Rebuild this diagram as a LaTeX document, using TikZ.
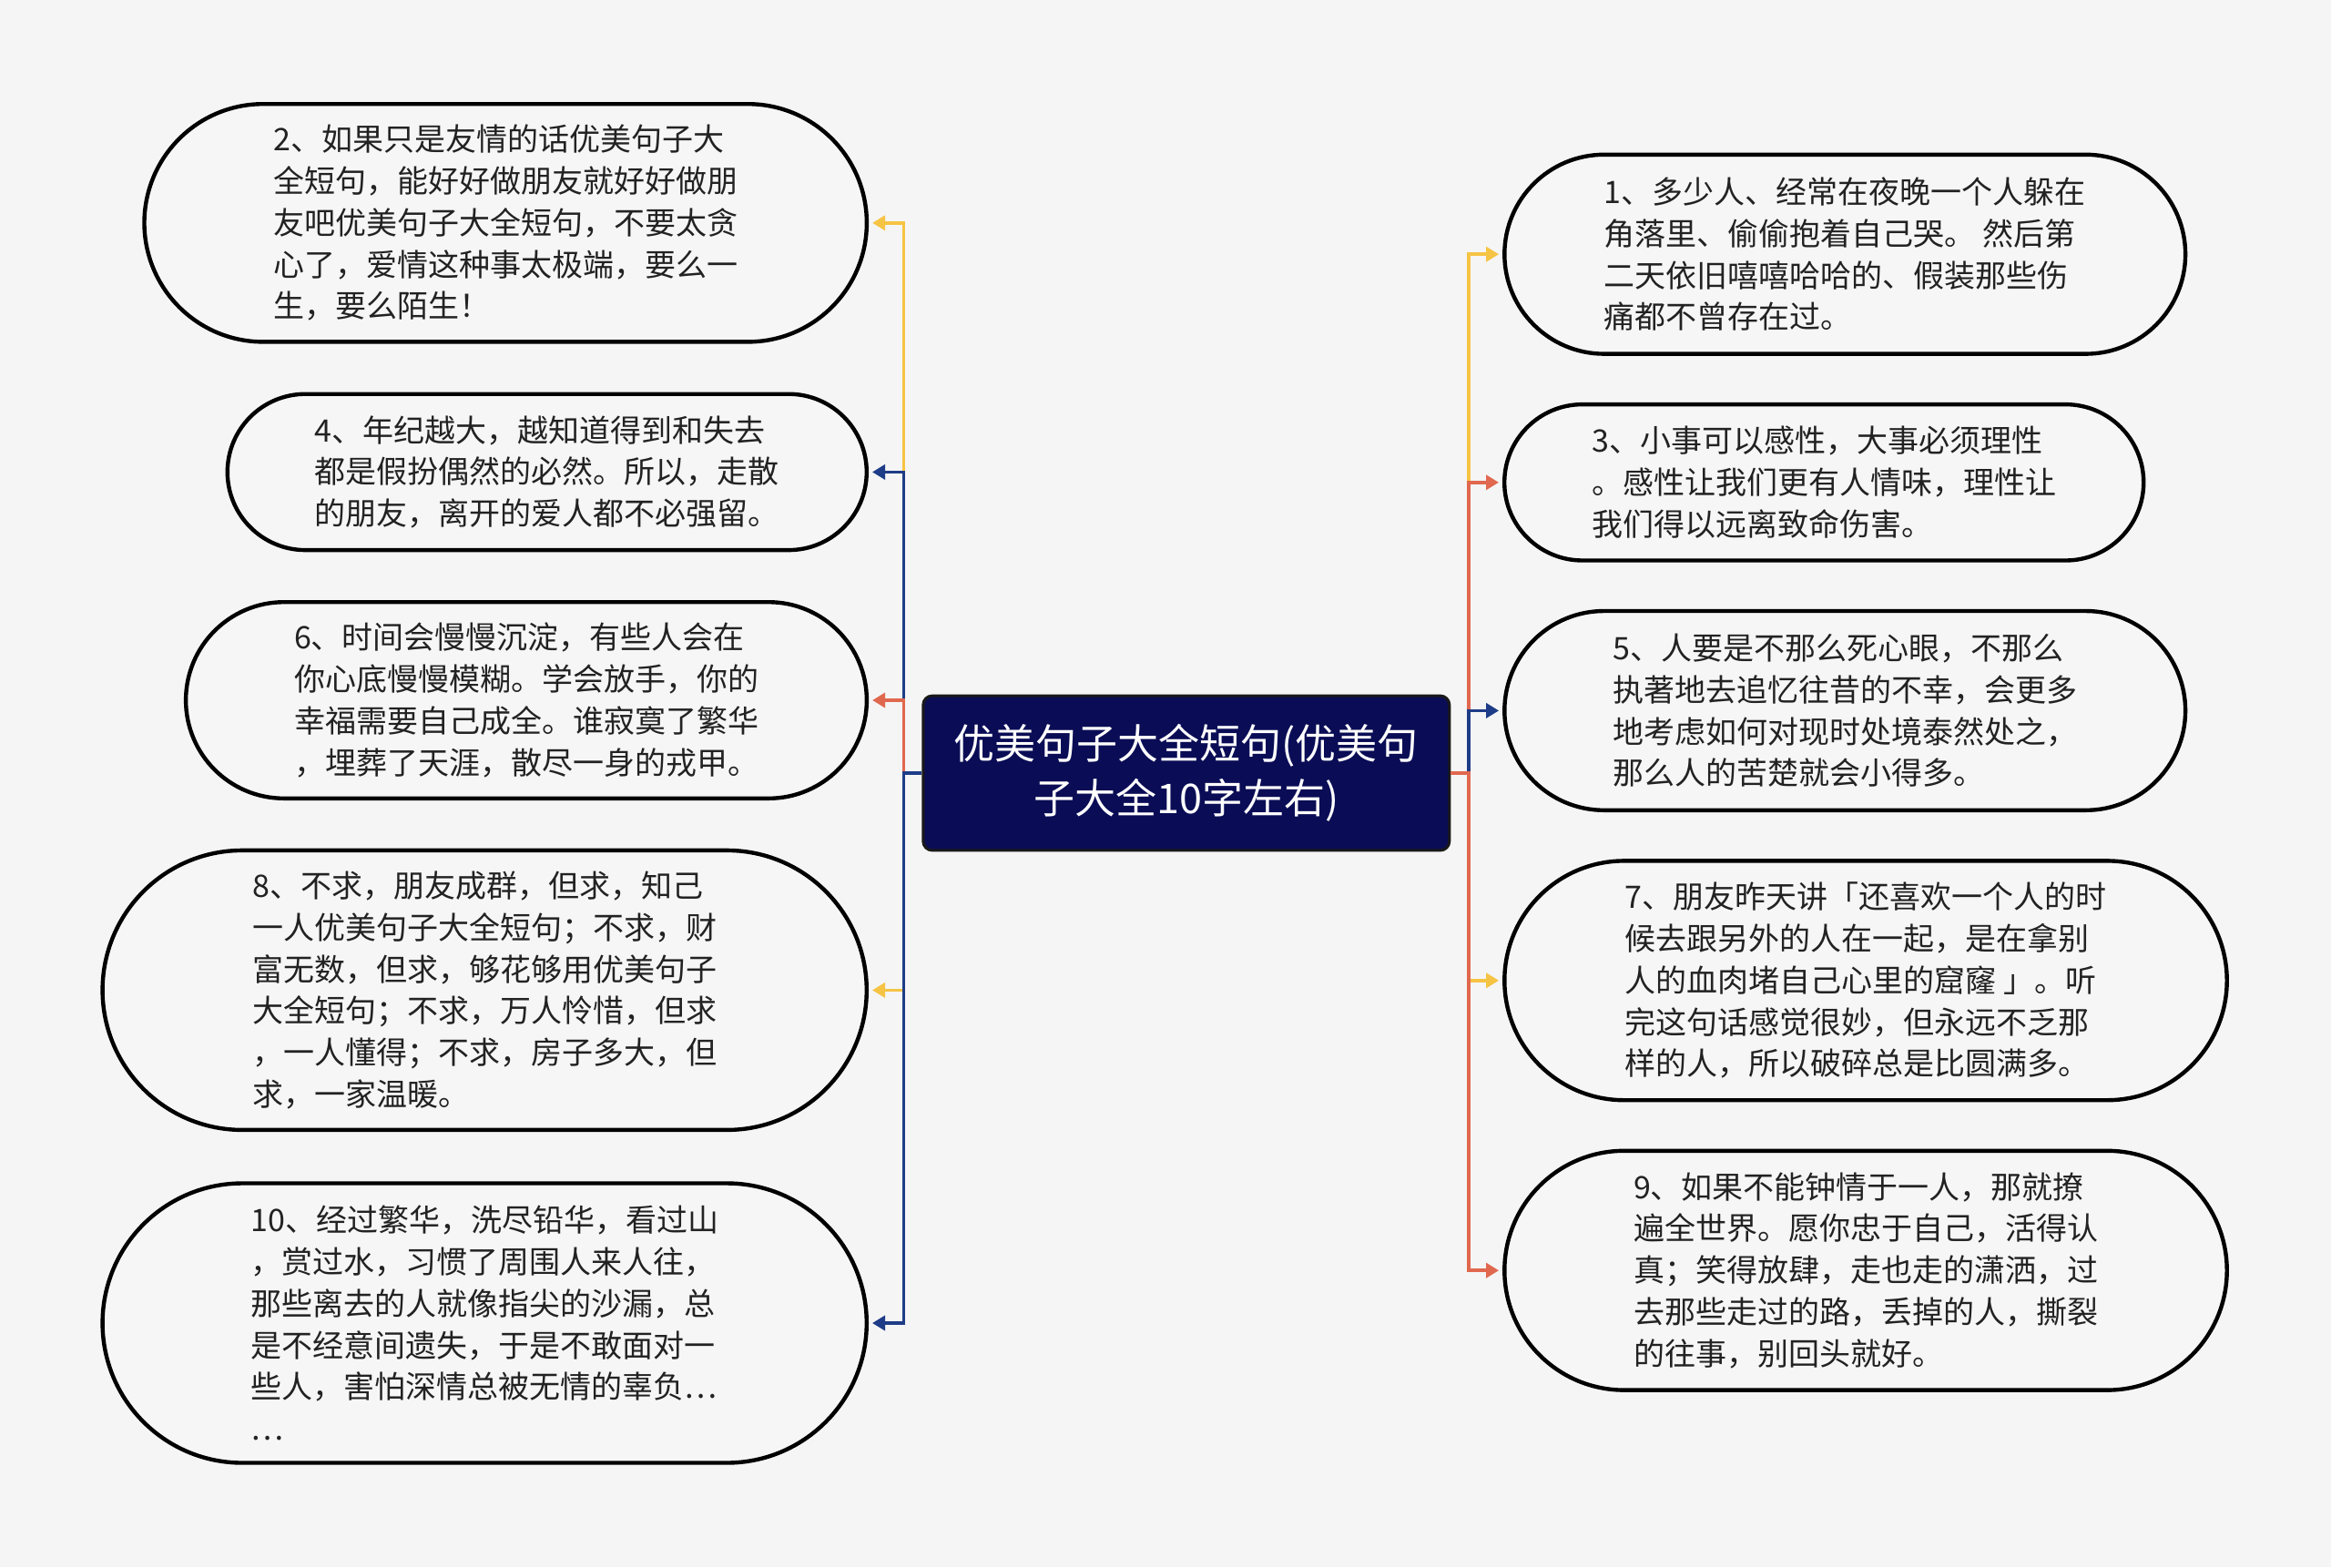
\documentclass[tikz,border=0pt]{standalone}
\usepackage{fontspec}
\newfontfamily\cjk{Noto Sans CJK SC}
\usetikzlibrary{shapes.misc,arrows.meta}
\definecolor{bgc}{HTML}{F5F5F5}
\definecolor{leaffill}{HTML}{F6F6F6}
\definecolor{txt}{HTML}{222222}
\definecolor{cyel}{HTML}{F6C444}
\definecolor{cblu}{HTML}{1E3C87}
\definecolor{cora}{HTML}{E0684E}
\definecolor{cnavy}{HTML}{0A0D55}
\begin{document}
\begin{tikzpicture}[x=1pt,y=1pt,
  leaf/.style={rounded rectangle, draw=black, line width=2.2pt, fill=leaffill, align=left,
    font=\cjk\fontsize{17}{22.9}\selectfont, text=txt, inner sep=0pt},
  root/.style={rectangle, rounded corners=5pt, draw=black!90, line width=1.5pt, fill=cnavy,
    align=center, text=white, font=\cjk\fontsize{22.5}{30.2}\selectfont,
    minimum width=289pt, minimum height=84.9pt, inner sep=0pt},
  conn/.style={line width=1.8pt, line join=miter, -{Triangle[length=7pt,width=8pt]}, shorten >=2pt}]
\useasboundingbox (0,0) rectangle (1280,-860.5);
\fill[bgc] (0,0) rectangle (1280,-860.5);

\node[root] (c) at (651.4,-424.5) {优美句子大全短句(优美句\\子大全10字左右)};

\coordinate (lt) at (496.3,-424.5);
\coordinate (rt) at (806.5,-424.5);

% left nodes
\node[leaf, minimum width=396.7pt, minimum height=130.6pt] (n2) at (277.6,-122.4)
 {2、如果只是友情的话优美句子大\\全短句，能好好做朋友就好好做朋\\友吧优美句子大全短句，不要太贪\\心了，爱情这种事太极端，要么一\\生，要么陌生！};
\node[leaf, minimum width=351.0pt, minimum height=85.7pt] (n4) at (300.4,-259.2)
 {4、年纪越大，越知道得到和失去\\都是假扮偶然的必然。所以，走散\\的朋友，离开的爱人都不必强留。};
\node[leaf, minimum width=373.9pt, minimum height=107.8pt] (n6) at (289.0,-384.5)
 {6、时间会慢慢沉淀，有些人会在\\你心底慢慢模糊。学会放手，你的\\幸福需要自己成全。谁寂寞了繁华\\，埋葬了天涯，散尽一身的戎甲。};
\node[leaf, minimum width=419.6pt, minimum height=153.5pt] (n8) at (266.1,-543.7)
 {8、不求，朋友成群，但求，知己\\一人优美句子大全短句；不求，财\\富无数，但求，够花够用优美句子\\大全短句；不求，万人怜惜，但求\\，一人懂得；不求，房子多大，但\\求，一家温暖。};
\node[leaf, minimum width=419.6pt, minimum height=153.5pt] (n10) at (266.1,-726.5)
 {10、经过繁华，洗尽铅华，看过山\\，赏过水，习惯了周围人来人往，\\那些离去的人就像指尖的沙漏，总\\是不经意间遗失，于是不敢面对一\\些人，害怕深情总被无情的辜负…\\…};

% right nodes
\node[leaf, minimum width=373.9pt, minimum height=109.4pt] (n1) at (1013.1,-139.6)
 {1、多少人、经常在夜晚一个人躲在\\角落里、偷偷抱着自己哭。 然后第\\二天依旧嘻嘻哈哈的、假装那些伤\\痛都不曾存在过。};
\node[leaf, minimum width=351.0pt, minimum height=85.7pt] (n3) at (1001.6,-264.9)
 {3、小事可以感性，大事必须理性\\。感性让我们更有人情味，理性让\\我们得以远离致命伤害。};
\node[leaf, minimum width=373.9pt, minimum height=109.4pt] (n5) at (1013.1,-390.2)
 {5、人要是不那么死心眼，不那么\\执著地去追忆往昔的不幸，会更多\\地考虑如何对现时处境泰然处之，\\那么人的苦楚就会小得多。};
\node[leaf, minimum width=396.7pt, minimum height=131.4pt] (n7) at (1024.5,-538.4)
 {7、朋友昨天讲「还喜欢一个人的时\\候去跟另外的人在一起，是在拿别\\人的血肉堵自己心里的窟窿 」。听\\完这句话感觉很妙，但永远不乏那\\样的人，所以破碎总是比圆满多。};
\node[leaf, minimum width=396.7pt, minimum height=131.4pt] (n9) at (1024.5,-697.6)
 {9、如果不能钟情于一人，那就撩\\遍全世界。愿你忠于自己，活得认\\真；笑得放肆，走也走的潇洒，过\\去那些走过的路，丢掉的人，撕裂\\的往事，别回头就好。};

% left connectors
\draw[conn, cyel] (c.west) -- (lt) |- (n2.east);
\draw[conn, cblu] (c.west) -- (lt) |- (n4.east);
\draw[conn, cora] (c.west) -- (lt) |- (n6.east);
\draw[conn, cyel] (c.west) -- (lt) |- (n8.east);
\draw[conn, cblu] (c.west) -- (lt) |- (n10.east);
% right connectors
\draw[conn, cyel] (c.east) -- (rt) |- (n1.west);
\draw[conn, cora] (c.east) -- (rt) |- (n3.west);
\draw[conn, cblu] (c.east) -- (rt) |- (n5.west);
\draw[conn, cyel] (c.east) -- (rt) |- (n7.west);
\draw[conn, cora] (c.east) -- (rt) |- (n9.west);
\end{tikzpicture}
\end{document}
